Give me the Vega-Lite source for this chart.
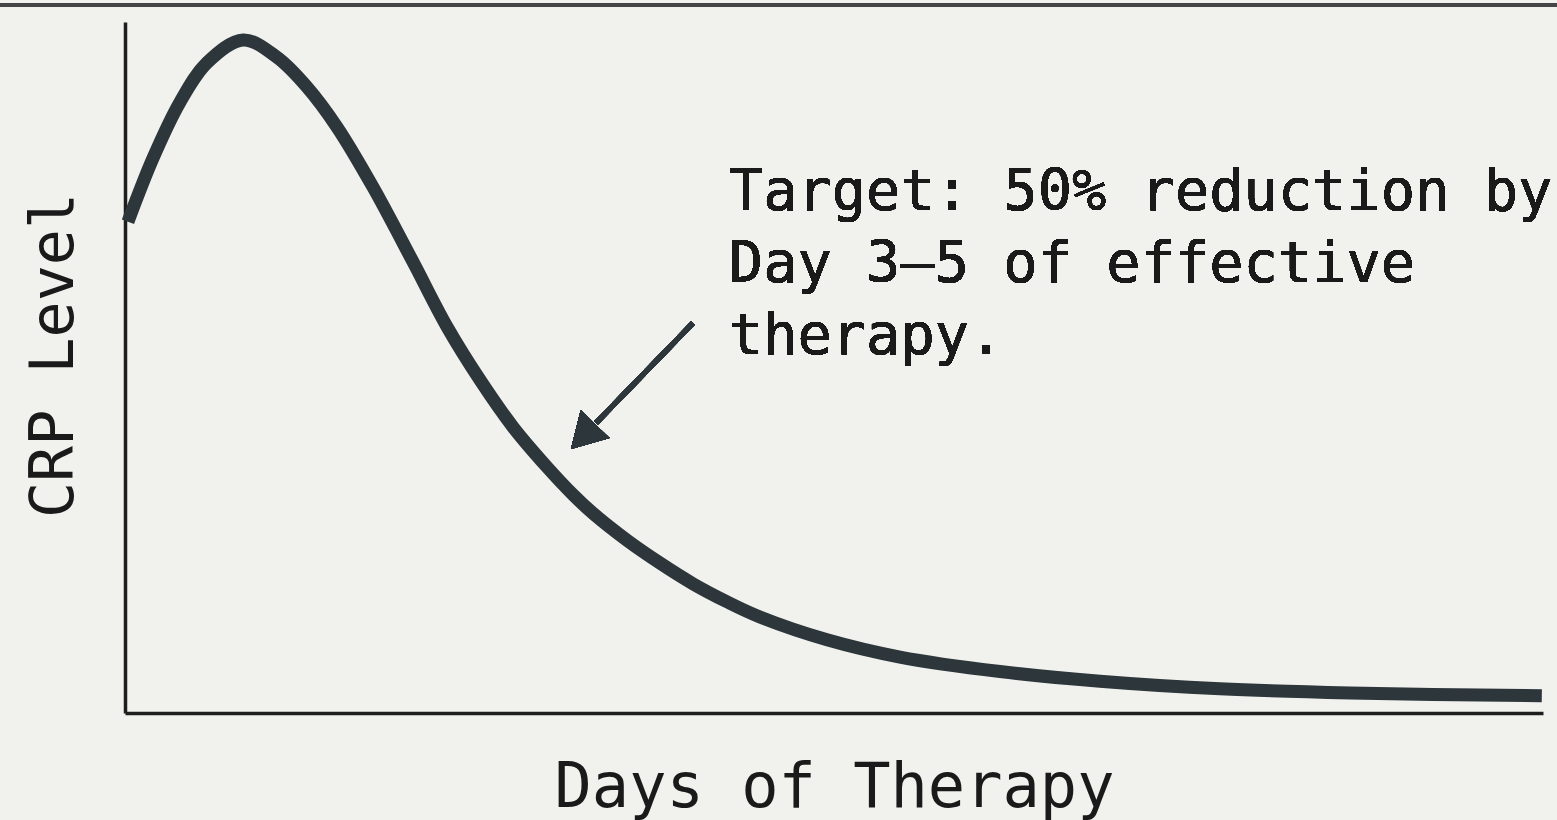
{
  "$schema": "https://vega.github.io/schema/vega-lite/v6.json",
  "width": 1418,
  "height": 691,
  "autosize": {"type": "none"},
  "padding": {"left": 125, "top": 22, "right": 14, "bottom": 107},
  "background": "#f1f1ed",
  "config": {"view": {"stroke": null}, "font": "DejaVu Sans Mono"},
  "data": {
    "values": [
      {"day": 0.025, "crp": 71.1},
      {"day": 0.237, "crp": 80.3},
      {"day": 0.465, "crp": 88.4},
      {"day": 0.694, "crp": 94.1},
      {"day": 1.0, "crp": 97.4},
      {"day": 1.286, "crp": 94.9},
      {"day": 1.54, "crp": 90.6},
      {"day": 1.794, "crp": 84.8},
      {"day": 2.099, "crp": 76.1},
      {"day": 2.437, "crp": 65.3},
      {"day": 2.725, "crp": 55.9},
      {"day": 3.004, "crp": 48.2},
      {"day": 3.283, "crp": 41.4},
      {"day": 3.571, "crp": 35.6},
      {"day": 3.791, "crp": 31.6},
      {"day": 3.96, "crp": 28.9},
      {"day": 4.248, "crp": 25.0},
      {"day": 4.527, "crp": 21.7},
      {"day": 4.807, "crp": 18.7},
      {"day": 5.094, "crp": 16.1},
      {"day": 5.373, "crp": 13.9},
      {"day": 5.941, "crp": 10.6},
      {"day": 6.558, "crp": 8.1},
      {"day": 7.405, "crp": 6.0},
      {"day": 8.251, "crp": 4.6},
      {"day": 9.266, "crp": 3.5},
      {"day": 10.367, "crp": 2.9},
      {"day": 11.99, "crp": 2.5}
    ]
  },
  "layer": [
    {
      "mark": {"type": "line", "color": "#2c363b", "strokeWidth": 13, "interpolate": "catmull-rom", "strokeCap": "butt", "strokeJoin": "round"},
      "encoding": {
        "x": {
          "field": "day", "type": "quantitative",
          "scale": {"domain": [0, 12], "nice": false, "zero": false},
          "axis": {
            "title": "Days of Therapy", "titleFontSize": 62, "titleFontWeight": "normal",
            "titleColor": "#1a1a1a", "titlePadding": 44, "titleFont": "DejaVu Sans Mono",
            "domainColor": "#1e1e1e", "domainWidth": 3.5, "ticks": false, "labels": false, "grid": false
          }
        },
        "y": {
          "field": "crp", "type": "quantitative",
          "scale": {"domain": [0, 100], "nice": false},
          "axis": {
            "title": "CRP Level", "titleFontSize": 60, "titleFontWeight": "normal",
            "titleColor": "#1a1a1a", "titlePadding": 40, "titleY": 333, "titleFont": "DejaVu Sans Mono",
            "domainColor": "#1e1e1e", "domainWidth": 3.5, "ticks": false, "labels": false, "grid": false
          }
        }
      }
    },
    {
      "mark": {"type": "rule", "color": "#2c363b", "strokeWidth": 5},
      "encoding": {
        "x": {"datum": 4.807, "type": "quantitative"},
        "y": {"datum": 56.44, "type": "quantitative"},
        "x2": {"datum": 3.986},
        "y2": {"datum": 41.97}
      }
    },
    {
      "mark": {"type": "point", "shape": "triangle-up", "filled": true, "color": "#2c363b", "opacity": 1, "size": 1600, "angle": 224},
      "encoding": {
        "x": {"datum": 3.876, "type": "quantitative"},
        "y": {"datum": 40.0, "type": "quantitative"}
      }
    },
    {
      "mark": {"type": "text", "align": "left", "baseline": "alphabetic", "fontSize": 57, "lineHeight": 72, "color": "#1a1a1a", "font": "DejaVu Sans Mono"},
      "encoding": {
        "x": {"datum": 5.11, "type": "quantitative"},
        "y": {"datum": 72.8, "type": "quantitative"},
        "text": {"value": ["Target: 50% reduction by", "Day 3\u20135 of effective", "therapy."]}
      }
    },
    {
      "mark": {"type": "rule", "color": "#454545", "strokeWidth": 3, "clip": false},
      "encoding": {
        "x": {"datum": -1.07, "type": "quantitative"},
        "x2": {"datum": 12.13},
        "y": {"datum": 102.5, "type": "quantitative"}
      }
    }
  ]
}
